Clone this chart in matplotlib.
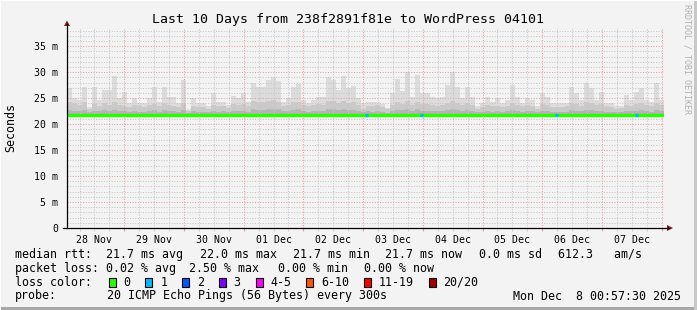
import matplotlib
matplotlib.use('Agg')
import matplotlib.pyplot as plt
import matplotlib.dates as mdates
from matplotlib.patches import Rectangle, Polygon
from matplotlib.lines import Line2D
from matplotlib.ticker import FuncFormatter, MultipleLocator, NullFormatter
from datetime import datetime, timedelta
import numpy as np

# ---------------- data ----------------
title = "Last 10 Days from 238f2891f81e to WordPress 04101"
start_time = datetime(2025, 11, 28, 0, 57, 30)
end_time = datetime(2025, 12, 8, 0, 57, 30)
bin_hours = 2

# smoke: per 2-hour bin, in ms
max_rtt = [26.9, 25.0, 24.7, 27.1, 23.3, 27.2, 24.7, 26.5, 26.5, 29.3,
           25.0, 26.2, 24.0, 25.0, 24.0, 24.0, 25.0, 27.1, 24.2, 27.1,
           25.3, 25.3, 24.0, 28.4, 22.8, 25.0, 24.0, 24.0, 23.5, 25.9,
           24.3, 24.3, 23.7, 25.5, 25.0, 25.9, 24.3, 27.9, 27.1, 27.1,
           28.4, 29.1, 28.3, 24.3, 25.0, 27.1, 27.8, 24.7, 24.0, 24.7,
           25.3, 25.3, 29.1, 28.4, 26.5, 29.2, 27.0, 27.4, 25.0, 24.0,
           24.3, 24.3, 24.3, 23.8, 23.1, 25.9, 28.6, 26.3, 30.1, 25.2,
           29.5, 25.9, 25.9, 25.2, 25.0, 25.2, 27.5, 30.1, 27.1, 25.1,
           27.1, 25.2, 23.5, 24.0, 25.2, 24.3, 25.0, 24.0, 24.7, 27.5,
           25.2, 24.0, 25.0, 24.7, 23.4, 25.9, 25.2, 24.0, 24.0, 24.0,
           24.0, 27.2, 25.9, 24.7, 27.9, 27.0, 24.7, 26.2, 24.0, 24.0,
           23.4, 23.4, 25.6, 24.7, 26.2, 26.9, 24.7, 24.3, 27.9, 24.7]
upper_rtt = [24.3, 24.0, 23.6, 24.2, 22.9, 23.8, 23.5, 24.0, 23.7, 24.2,
             23.6, 23.5, 23.2, 23.6, 23.4, 23.3, 23.6, 23.9, 23.4, 24.0,
             23.6, 23.5, 23.3, 24.0, 22.6, 23.5, 23.3, 23.2, 23.0, 23.7,
             23.4, 23.5, 23.1, 23.8, 23.6, 23.9, 23.5, 24.4, 24.2, 24.3,
             24.5, 24.6, 24.3, 23.5, 23.7, 24.2, 24.3, 23.6, 23.4, 23.6,
             23.8, 23.7, 24.5, 24.4, 24.0, 24.5, 24.1, 24.2, 23.6, 23.0,
             23.5, 23.4, 23.6, 23.2, 22.9, 23.6, 24.2, 23.9, 24.4, 23.6,
             24.3, 23.8, 23.9, 23.6, 23.5, 23.7, 24.1, 24.5, 24.0, 23.6,
             24.0, 23.6, 23.0, 23.3, 23.7, 23.4, 23.5, 23.3, 23.5, 24.1,
             23.7, 23.4, 23.6, 23.5, 23.0, 23.8, 23.7, 23.3, 23.2, 23.3,
             23.4, 24.0, 23.8, 23.5, 24.2, 24.0, 23.6, 23.9, 23.4, 23.3,
             23.0, 23.1, 23.7, 23.5, 23.9, 24.0, 23.6, 23.4, 24.1, 23.6]
lower_rtt = [22.7, 22.6, 22.5, 22.8, 22.3, 22.6, 22.5, 22.7, 22.6, 22.8,
             22.5, 22.6, 22.4, 22.5, 22.4, 22.4, 22.5, 22.7, 22.4, 22.7,
             22.5, 22.5, 22.4, 22.8, 22.2, 22.5, 22.4, 22.4, 22.3, 22.6,
             22.4, 22.5, 22.3, 22.6, 22.5, 22.6, 22.4, 22.9, 22.8, 22.8,
             22.9, 23.0, 22.9, 22.5, 22.6, 22.8, 22.9, 22.5, 22.4, 22.5,
             22.6, 22.6, 23.0, 22.9, 22.7, 23.0, 22.8, 22.8, 22.5, 22.3,
             22.5, 22.4, 22.5, 22.4, 22.2, 22.5, 22.8, 22.7, 22.9, 22.5,
             22.9, 22.6, 22.6, 22.5, 22.5, 22.6, 22.8, 23.0, 22.7, 22.5,
             22.7, 22.5, 22.3, 22.4, 22.6, 22.4, 22.5, 22.4, 22.5, 22.8,
             22.6, 22.4, 22.5, 22.5, 22.3, 22.6, 22.6, 22.4, 22.4, 22.4,
             22.4, 22.7, 22.6, 22.5, 22.8, 22.7, 22.5, 22.6, 22.4, 22.4,
             22.3, 22.3, 22.6, 22.5, 22.6, 22.7, 22.5, 22.4, 22.8, 22.5]
min_rtt = 21.3
median_rtt = [21.7] * 31 + [21.8] + [21.7] * 32 + [21.8] + [21.7] * 32 + [21.8, 21.8] + [21.7] * 9 + [21.8] + [21.7] * 11

# packet loss events: hour offset from start, lost pings (of 20)
loss_hours = [119.8, 141.8, 196.0, 228.2]
loss_counts = [1, 1, 1, 1]

loss_labels = ["0", "1", "2", "3", "4-5", "6-10", "11-19", "20/20"]
loss_colors = ["#26ff00", "#00b8ff", "#0059ff", "#7e00ff", "#ff00ff", "#ff5500", "#ff0000", "#a00000"]

rtt_stats = [21.7, 22.0, 21.7, 21.7]
rtt_sd = 0.0
am_s = 612.3
loss_stats = [0.02, 2.50, 0.00, 0.00]
probe_text = "20 ICMP Echo Pings (56 Bytes) every 300s"
stamp_text = "Mon Dec  8 00:57:30 2025"

# ---------------- figure ----------------
W, H = 697, 310
MONO = 'DejaVu Sans Mono'
plt.rcParams['font.family'] = MONO
fig = plt.figure(figsize=(W / 100, H / 100), dpi=100)
fig.patch.set_facecolor('#f3f3f3')

def fx(x):
    return x / W

def fy(y):
    return 1 - y / H

L, R, T, B = 67, 664, 28, 228
ax = fig.add_axes([fx(L), fy(B), (R - L) / W, (B - T) / H])
ax.set_facecolor('#f3f3f3')

edges = [start_time + timedelta(hours=bin_hours * i) for i in range(len(max_rtt) + 1)]

def ext(v):
    return list(v) + [v[-1]]

ax.fill_between(edges, min_rtt, ext(max_rtt), step='post', color='#dcdcdc', lw=0, zorder=1)
ax.fill_between(edges, min_rtt, ext(upper_rtt), step='post', color='#cacaca', lw=0, zorder=1.1)
ax.fill_between(edges, min_rtt, ext(lower_rtt), step='post', color='#b4b4b4', lw=0, zorder=1.2)
ax.step(edges, ext(median_rtt), where='post', color=loss_colors[0], lw=2.4,
        solid_capstyle='butt', zorder=3)

for h, n in zip(loss_hours, loss_counts):
    t0 = start_time + timedelta(hours=h)
    t1 = t0 + timedelta(hours=1.3)
    ci = 0 if n == 0 else (1 if n == 1 else 2 if n == 2 else 3 if n == 3 else
                           4 if n <= 5 else 5 if n <= 10 else 6 if n <= 19 else 7)
    ax.plot([t0, t1], [21.7, 21.7], color=loss_colors[ci], lw=2.4,
            solid_capstyle='butt', zorder=3.1)

ax.set_xlim(start_time, end_time)
ax.set_ylim(0, 38.5)

ax.xaxis.set_major_locator(mdates.DayLocator())
ax.xaxis.set_minor_locator(mdates.HourLocator(byhour=[6, 12, 18]))
ax.xaxis.set_major_formatter(NullFormatter())

def xlab(v, pos):
    d = mdates.num2date(v)
    return d.strftime('%d %b') if d.hour == 12 else ''

ax.xaxis.set_minor_formatter(FuncFormatter(xlab))
ax.yaxis.set_major_locator(MultipleLocator(5))
ax.yaxis.set_minor_locator(MultipleLocator(1))
ax.yaxis.set_major_formatter(FuncFormatter(lambda v, p: '0' if v == 0 else f'{int(v)} m'))

red = '#e6a0a0'
gray = '#c8c8c8'
dots = (0, (1, 1.5))
ax.set_axisbelow(False)
ax.grid(which='minor', axis='both', color=gray, ls=dots, lw=0.75, zorder=2)
ax.grid(which='major', axis='both', color=red, ls=dots, lw=0.75, zorder=2.1)

ax.tick_params(axis='x', which='minor', length=2.5, color=gray, labelsize=7.1, pad=2.5)
ax.tick_params(axis='x', which='major', length=2.5, color=red)
ax.tick_params(axis='y', which='both', length=0, labelsize=7.1, pad=6.3)
for s in ax.spines.values():
    s.set_visible(False)

# axis lines with arrows
arrow_c = '#801818'
fig.add_artist(Line2D([fx(L), fx(L)], [fy(B), fy(24)], color='black', lw=0.9))
fig.add_artist(Line2D([fx(63), fx(669)], [fy(B), fy(B)], color='black', lw=0.9))
fig.add_artist(Polygon([(fx(64), fy(26)), (fx(70), fy(26)), (fx(67), fy(20.5))],
                       closed=True, color=arrow_c, lw=0))
fig.add_artist(Polygon([(fx(667), fy(225)), (fx(667), fy(231)), (fx(673), fy(228))],
                       closed=True, color=arrow_c, lw=0))

# texts
fig.text(fx(347.5), fy(19), title, ha='center', va='center', fontsize=9.5, family=MONO)
fig.text(fx(11), fy(127), 'Seconds', rotation=90, ha='center', va='center', fontsize=8.4, family=MONO)
fig.text(fx(687), fy(59), 'RRDTOOL / TOBI OETIKER', rotation=270, ha='center', va='center',
         fontsize=6, family=MONO, color='#b0b0b0')

FS = 8.4
def t(x, y, s, **kw):
    fig.text(fx(x - 0.7), fy(y), s, ha='left', va='center', fontsize=FS, family=MONO, **kw)

y1, y2, y3, y4 = 254.3, 268.3, 282.3, 296
t(16, y1, f'median rtt:  {rtt_stats[0]:.1f} ms avg')
t(200.7, y1, f'{rtt_stats[1]:.1f} ms max')
t(293.3, y1, f'{rtt_stats[2]:.1f} ms min')
t(385.7, y1, f'{rtt_stats[3]:.1f} ms now')
t(479.3, y1, f'{rtt_sd:.1f} ms sd')
t(558.3, y1, f'{am_s:.1f}   am/s')

t(16, y2, f'packet loss: {loss_stats[0]:.2f} % avg')
t(189.3, y2, f'{loss_stats[1]:.2f} % max')
t(278.3, y2, f'{loss_stats[2]:.2f} % min')
t(365, y2, f'{loss_stats[3]:.2f} % now')

t(16, y3, 'loss color:')
bx = 108.7
for lab, col in zip(loss_labels, loss_colors):
    fig.add_artist(Rectangle((fx(bx), fy(y3 + 4.5)), 7 / W, 9 / H, facecolor=col,
                             edgecolor='black', lw=0.8))
    t(bx + 15.5, y3, lab)
    bx = bx + 15.5 + len(lab) * 6.96 + 14.3

t(16, y4, 'probe:')
t(107.3, y4, probe_text)
t(513.3, y4, stamp_text)

# border
fig.add_artist(Rectangle((0, 0), 1, 3 / H, facecolor='#a8a8a8', lw=0))
fig.add_artist(Rectangle((1 - 3 / W, 0), 3 / W, 1, facecolor='#c8c8c8', lw=0))
fig.add_artist(Rectangle((0, 1 - 1 / H), 1, 1 / H, facecolor='#ffffff', lw=0))
fig.add_artist(Rectangle((0, 0), 1 / W, 1, facecolor='#ffffff', lw=0))

fig.savefig('out.png', dpi=100, facecolor=fig.get_facecolor())
